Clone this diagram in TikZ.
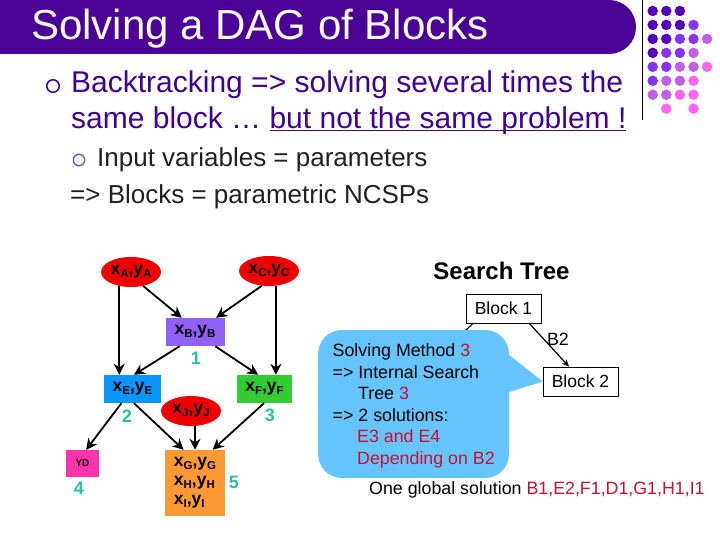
\documentclass[tikz,border=0pt]{standalone}
\usepackage{fontspec}
\setmainfont{Liberation Sans}
\usetikzlibrary{shapes.geometric,arrows.meta}

\definecolor{bandcol}{HTML}{4B0096}
\definecolor{bodycol}{HTML}{400090}
\definecolor{greycol}{HTML}{202020}
\definecolor{bulcol}{HTML}{7040B0}
\definecolor{redcol}{HTML}{C8102E}
\definecolor{tealcol}{HTML}{22C3A0}
\definecolor{calloutcol}{HTML}{66C5FF}
\definecolor{dotA}{HTML}{5500B8}
\definecolor{dotB}{HTML}{8833EE}
\definecolor{dotC}{HTML}{C060E8}
\definecolor{dotD}{HTML}{FF66EE}
\definecolor{colB}{HTML}{9060F8}
\definecolor{colE}{HTML}{0A96FF}
\definecolor{colF}{HTML}{33CC33}
\definecolor{colD}{HTML}{FF33AA}
\definecolor{colG}{HTML}{FF9933}
\definecolor{colV}{HTML}{EE0000}

\newcommand{\vxy}[1]{x\raisebox{-3pt}{\fontsize{11.5}{12}\selectfont #1},y\raisebox{-3pt}{\fontsize{11.5}{12}\selectfont #1}}

\tikzset{
  varnode/.style={ellipse, fill=colV, minimum width=60pt, minimum height=30pt, inner sep=0pt, font=\fontsize{17.5}{19}\selectfont\bfseries},
  blocknode/.style={rectangle, inner sep=0pt, font=\fontsize{17.5}{19}\selectfont\bfseries},
  numnode/.style={text=tealcol, inner sep=0pt, font=\fontsize{18}{18}\selectfont\bfseries},
  treenode/.style={draw=black, fill=white, line width=0.7pt, minimum width=75pt, minimum height=29pt, inner sep=0pt, font=\fontsize{17.5}{19}\selectfont},
  line/.style={inner sep=0pt, anchor=base west},
  arc/.style={line width=1.8pt, -{Stealth[length=11pt,width=11pt]}},
  dot/.style={circle, inner sep=0pt, minimum size=10.5pt}
}

\begin{document}
\begin{tikzpicture}[x=1pt, y=-1pt]
    \useasboundingbox (0,0) rectangle (720,540);

    % title band
    \fill[bandcol] (0,0) -- (609,0) .. controls (624,0) and (636,12) .. (636,27) .. controls (636,42) and (624,54) .. (609,54) -- (0,54) -- cycle;
    \node[line, text=white, font=\fontsize{42}{44}\selectfont] (title) at (31,40) {Solving a DAG of Blocks};

    % corner decoration
    \draw[line width=0.9pt] (642,0) -- (642,120);
    \foreach \col/\row/\c in {0/0/dotA, 1/0/dotA, 2/0/dotA,
        0/1/dotA, 1/1/dotA, 2/1/dotA, 3/1/dotB,
        0/2/dotA, 1/2/dotA, 2/2/dotB, 3/2/dotB, 4/2/dotC,
        0/3/dotA, 1/3/dotB, 2/3/dotB, 3/3/dotC,
        0/4/dotB, 1/4/dotB, 2/4/dotC, 3/4/dotC, 4/4/dotD,
        0/5/dotB, 1/5/dotC, 2/5/dotC, 3/5/dotD,
        0/6/dotC, 1/6/dotC, 2/6/dotD, 3/6/dotD,
        1/7/dotD, 3/7/dotD}
      \node[dot, fill=\c] (dot\col\row) at (652.7+13.6*\col, 11+13.95*\row) {};

    % body text
    \node[circle, draw=bodycol, fill=white, line width=1.5pt, minimum size=12.5pt, inner sep=0pt] (bulA) at (53,86) {};
    \node[line, text=bodycol, font=\fontsize{30}{32}\selectfont] (bodyA) at (71,93) {Backtracking => solving several times the};
    \node[line, text=bodycol, font=\fontsize{30}{32}\selectfont] (bodyB) at (71,129) {same block … \underline{\smash{but not the same problem !}}};
    \node[circle, draw=bulcol, fill=white, line width=1.2pt, minimum size=11.5pt, inner sep=0pt] (bulB) at (79,160) {};
    \node[line, text=greycol, font=\fontsize{26}{28}\selectfont] (bodyC) at (97,167) {Input variables = parameters};
    \node[line, text=greycol, font=\fontsize{26}{28}\selectfont] (bodyD) at (70,204) {=> Blocks = parametric NCSPs};

    % the DAG
    \node[varnode] (varA) at (131,272) {\vxy{A}};
    \node[varnode] (varC) at (269,271) {\vxy{C}};
    \node[varnode] (varJ) at (191,411) {\vxy{J}};
    \node[blocknode, fill=colB, minimum width=59pt, minimum height=28pt] (blockB) at (195,332) {\vxy{B}};
    \node[blocknode, fill=colE, minimum width=57pt, minimum height=28pt] (blockE) at (132.5,389) {\vxy{E}};
    \node[blocknode, fill=colF, minimum width=55pt, minimum height=28pt] (blockF) at (264.5,389) {\vxy{F}};
    \node[blocknode, fill=colD, minimum width=33pt, minimum height=27pt, font=\fontsize{10}{12}\selectfont\bfseries] (blockD) at (82.5,463.5) {YD};
    \node[blocknode, fill=colG, minimum width=60pt, minimum height=66pt, align=left, font=\fontsize{17.5}{19}\selectfont\bfseries] (blockG) at (195,483) {\vxy{G}\\\vxy{H}\\\vxy{I}};

    \node[numnode] (numA) at (196,358) {1};
    \node[numnode] (numB) at (127,416) {2};
    \node[numnode] (numC) at (270,415) {3};
    \node[numnode] (numD) at (79,488) {4};
    \node[numnode] (numE) at (234,482) {5};

    \draw[arc] (varA.230) -- (varA.230 |- blockE.north);
    \draw[arc] (varC.295) -- (varC.295 |- blockF.north);
    \draw[arc] (varA.-49) -- (blockB.133);
    \draw[arc] (varC.244) -- (blockB.34);
    \draw[arc] (blockB.223) -- (blockE.84);
    \draw[arc] (blockB.-35) -- (blockF.114);
    \draw[arc] (blockE.-128) -- (blockD.75);
    \draw[arc] (blockE.-84) -- (blockG.109);
    \draw[arc] (varJ.-75) -- (varJ.-75 |- blockG.north);
    \draw[arc] (blockF.-92) -- (blockG.62);

    % search tree
    \node[inner sep=0pt, font=\fontsize{24}{26}\selectfont\bfseries] (treetitle) at (501.5,271) {Search Tree};
    \node[treenode] (tree1) at (503.5,308.5) {Block 1};
    \node[treenode] (tree2) at (580.5,381.5) {Block 2};
    \coordinate (hidden) at (450,345);
    \draw[line width=1.1pt] (tree1.-154) -- (hidden);
    \draw[line width=1.2pt, -{Stealth[length=7pt,width=6pt]}] (tree1.-30) -- (tree2.north west -| 569,367);
    \node[inner sep=0pt, font=\fontsize{17.8}{20}\selectfont] (labelB) at (558,339) {B2};

    % callout over the left branch
    \node[fill=calloutcol, rounded corners=24pt, minimum width=191pt, minimum height=148pt, inner sep=0pt] (callout) at (413.5,404) {};
    \fill[calloutcol] (callout.east |- 0,355) -- (tree2.west) -- (callout.east |- 0,392) -- cycle;
    \begin{scope}[font=\fontsize{17.8}{20}\selectfont]
    \node[line] (textA) at (332.5,356) {Solving Method \textcolor{redcol}{3}};
    \node[line] (textB) at (332.5,378) {=> Internal Search};
    \node[line] (textC) at (358,399.5) {Tree \textcolor{redcol}{3}};
    \node[line] (textD) at (332.5,421) {=> 2 solutions:};
    \node[line, text=redcol] (textE) at (357,442.5) {E3 and E4};
    \node[line, text=redcol] (textF) at (357,464) {Depending on B2};
    \node[line] (global) at (369,494) {One global solution \textcolor{redcol}{B1,E2,F1,D1,G1,H1,I1}};
    \end{scope}
\end{tikzpicture}
\end{document}
